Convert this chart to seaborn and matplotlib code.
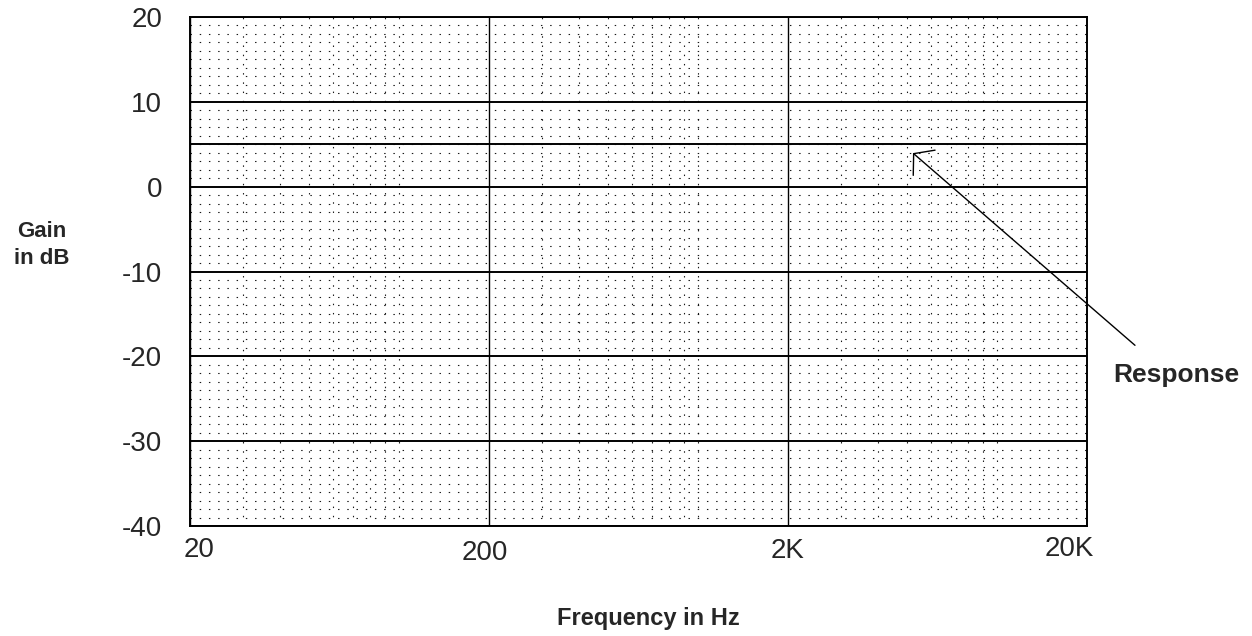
import numpy as np
import seaborn as sns
import matplotlib.pyplot as plt
from matplotlib.ticker import FixedLocator, LogLocator, MultipleLocator, NullFormatter
from matplotlib.transforms import ScaledTranslation

sns.set_style("white")
plt.rcParams["font.family"] = ["Liberation Sans", "DejaVu Sans"]
plt.rcParams["axes.unicode_minus"] = False

# data
freq_hz = [20, 20000]
gain_db = [5, 5]
x_ticks = [20, 200, 2000, 20000]
x_labels = ["20", "200", "2K", "20K"]
y_ticks = [-40, -30, -20, -10, 0, 10, 20]
arrow_tip = (5236, 3.96)
arrow_tail = (28940, -18.7)

fig = plt.figure(figsize=(12.52, 6.36), dpi=100)
ax = fig.add_axes([190 / 1252, 110 / 636, 897 / 1252, 509 / 636])

sns.lineplot(x=freq_hz, y=gain_db, ax=ax, color="black", lw=1.4, zorder=3)

ax.set_xscale("log")
ax.set_xlim(20, 20000)
ax.set_ylim(-40, 20)

ax.xaxis.set_major_locator(FixedLocator(x_ticks))
ax.set_xticklabels(x_labels)
ax.xaxis.set_minor_locator(LogLocator(base=10, subs=np.arange(1, 10)))
ax.xaxis.set_minor_formatter(NullFormatter())
ax.set_yticks(y_ticks)
ax.set_yticklabels([str(v) for v in y_ticks])
ax.yaxis.set_minor_locator(MultipleLocator(1))

ax.grid(which="major", axis="y", color="black", lw=1.4, ls="-")
ax.grid(which="major", axis="x", color="black", lw=1.0, ls="-")
ax.grid(which="minor", color="black", lw=0.8, ls=(0, (1.3, 7)), alpha=0.9)
ax.set_axisbelow(True)

ax.tick_params(which="both", length=0)
ax.tick_params(axis="y", labelsize=20, pad=20)
ax.tick_params(axis="x", labelsize=20, pad=8)
for s in ax.spines.values():
    s.set_color("black")
    s.set_linewidth(1.4)

# hand-placed look of the x tick labels
offsets = [(9, 0), (-4, -3), (0, -1), (-18, 1)]
for lab, (dx, dy) in zip(ax.get_xticklabels(), offsets):
    lab.set_transform(lab.get_transform() + ScaledTranslation(dx / 100, dy / 100, fig.dpi_scale_trans))

ax.set_xlabel("")
ax.set_ylabel("")
fig.text(42 / 1252, 1 - 245 / 636, "Gain\nin dB", ha="center", va="center",
         fontsize=16, fontweight="bold", linespacing=1.35)
fig.text(648 / 1252, 11 / 636, "Frequency in Hz", ha="center", va="baseline",
         fontsize=17, fontweight="bold")
fig.text(1113 / 1252, 1 - 382 / 636, "Response", ha="left", va="baseline",
         fontsize=19, fontweight="bold")

ax.annotate("", xy=arrow_tip, xytext=arrow_tail, annotation_clip=False,
            arrowprops=dict(arrowstyle="->,head_length=1.0,head_width=1.2",
                            mutation_scale=10, color="black", lw=1.0,
                            shrinkA=0, shrinkB=0))

fig.savefig("out.png", dpi=100)
